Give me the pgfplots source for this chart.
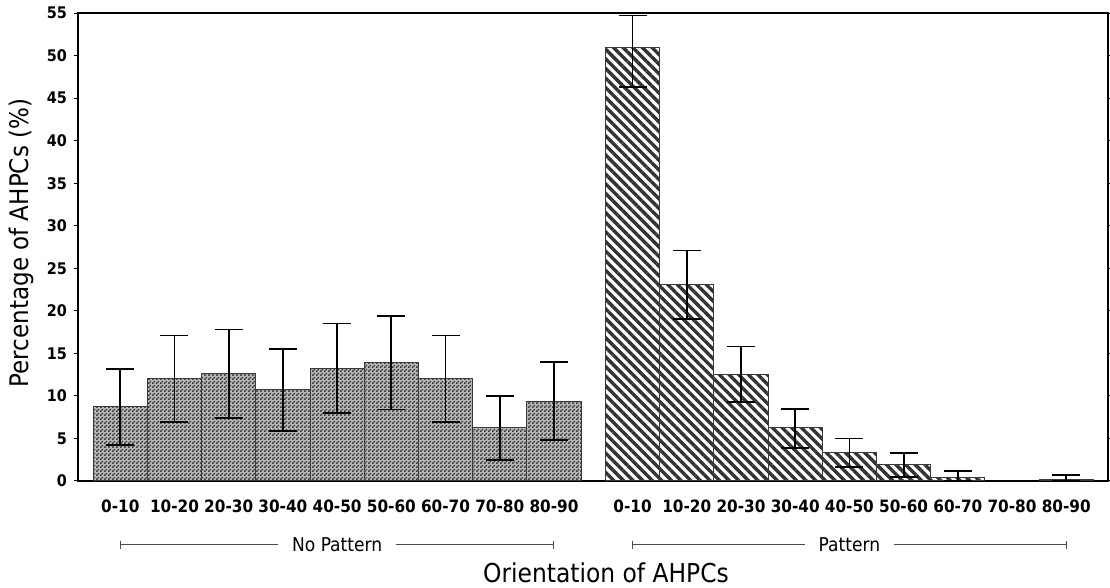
\documentclass[border=0pt]{standalone}
\usepackage{fontspec}
\setmainfont{DejaVu Sans Condensed}
\usepackage{pgfplots}
\usepackage{pgfplotstable}
\pgfplotsset{compat=1.18}
\usetikzlibrary{patterns,patterns.meta}

\pgfdeclarepatternformonly{checker}{\pgfpointorigin}{\pgfpoint{2pt}{2pt}}{\pgfpoint{2pt}{2pt}}{%
  \pgfpathrectangle{\pgfpointorigin}{\pgfpoint{1pt}{1pt}}%
  \pgfpathrectangle{\pgfpoint{1pt}{1pt}}{\pgfpoint{1pt}{1pt}}%
  \pgfusepath{fill}}

\definecolor{barline}{HTML}{3A3A3A}
\definecolor{patc}{HTML}{333333}

% No Pattern group: x, value, error plus, error minus
\pgfplotstableread{
x y ep em
0 8.7 4.45 4.45
1 12.0 5.1 5.1
2 12.6 5.2 5.2
3 10.7 4.8 4.8
4 13.2 5.3 5.2
5 13.9 5.5 5.5
6 12.0 5.1 5.1
7 6.3 3.7 3.8
8 9.4 4.6 4.6
}\nopat

% Pattern group
\pgfplotstableread{
x y ep em
9.45 51.0 3.7 4.7
10.45 23.1 4.0 4.1
11.45 12.5 3.3 3.2
12.45 6.3 2.2 2.4
13.45 3.3 1.7 1.7
14.45 1.9 1.35 1.4
15.45 0.43 0.77 0.43
17.45 0.2 0.5 0.2
}\withpat

\begin{document}
\begin{tikzpicture}
\begin{axis}[
  at={(39pt,53.5pt)}, anchor=south west,
  width=515pt, height=234pt, scale only axis,
  xmin=-0.78, xmax=18.22, ymin=0, ymax=55,
  ytick={0,5,...,55},
  xtick={0,1,2,3,4,5,6,7,8,9.45,10.45,11.45,12.45,13.45,14.45,15.45,16.45,17.45},
  xticklabels={0-10,10-20,20-30,30-40,40-50,50-60,60-70,70-80,80-90,0-10,10-20,20-30,30-40,40-50,50-60,60-70,70-80,80-90},
  xtick style={draw=none},
  ytick style={black, line width=0.5pt},
  tick align=outside, major tick length=2pt,
  yticklabel style={font=\bfseries\fontsize{8}{9}\selectfont},
  xticklabel style={yshift=-4pt, font=\bfseries\fontsize{8.5}{9}\selectfont},
  /pgf/number format/assume math mode=true,
  axis line style={line width=0.6pt},
  clip=false,
]
\addplot[ybar, bar width=1, draw=barline, line width=0.5pt,
  fill=black!28, postaction={pattern=checker, pattern color=black!78},
  error bars/.cd, y dir=both, y explicit,
  error bar style={black, line width=0.9pt},
  error mark options={black, line width=0.9pt, mark size=7pt, rotate=90}]
  table[x=x, y=y, y error plus=ep, y error minus=em]{\nopat};
\addplot[ybar, bar width=1, draw=barline, line width=0.5pt,
  pattern={Lines[angle=-45, distance=3.4pt, line width=1.7pt]}, pattern color=patc,
  error bars/.cd, y dir=both, y explicit,
  error bar style={black, line width=0.9pt},
  error mark options={black, line width=0.9pt, mark size=7pt, rotate=90}]
  table[x=x, y=y, y error plus=ep, y error minus=em]{\withpat};

% group brackets
\draw[black!70, line width=0.5pt] (axis cs:0,-7.52) -- (axis cs:8,-7.52)
  node[midway, fill=white, inner sep=7pt, font=\fontsize{9.5}{10}\selectfont, text=black] {No Pattern};
\draw[black!70, line width=0.5pt] ([yshift=-2pt]axis cs:0,-7.52) -- ([yshift=2pt]axis cs:0,-7.52);
\draw[black!70, line width=0.5pt] ([yshift=-2pt]axis cs:8,-7.52) -- ([yshift=2pt]axis cs:8,-7.52);
\draw[black!70, line width=0.5pt] (axis cs:9.45,-7.52) -- (axis cs:17.45,-7.52)
  node[midway, fill=white, inner sep=7pt, font=\fontsize{9.5}{10}\selectfont, text=black] {Pattern};
\draw[black!70, line width=0.5pt] ([yshift=-2pt]axis cs:9.45,-7.52) -- ([yshift=2pt]axis cs:9.45,-7.52);
\draw[black!70, line width=0.5pt] ([yshift=-2pt]axis cs:17.45,-7.52) -- ([yshift=2pt]axis cs:17.45,-7.52);

\node[font=\fontsize{13}{15}\selectfont] at (axis cs:8.96,-10.75) {Orientation of AHPCs};
\node[rotate=90, font=\fontsize{12.8}{14}\selectfont] at (axis cs:-1.815,27.97) {Percentage of AHPCs (\%)};
\end{axis}
\pgfresetboundingbox
\useasboundingbox (0,0) rectangle (555pt,294pt);
\end{tikzpicture}
\end{document}
